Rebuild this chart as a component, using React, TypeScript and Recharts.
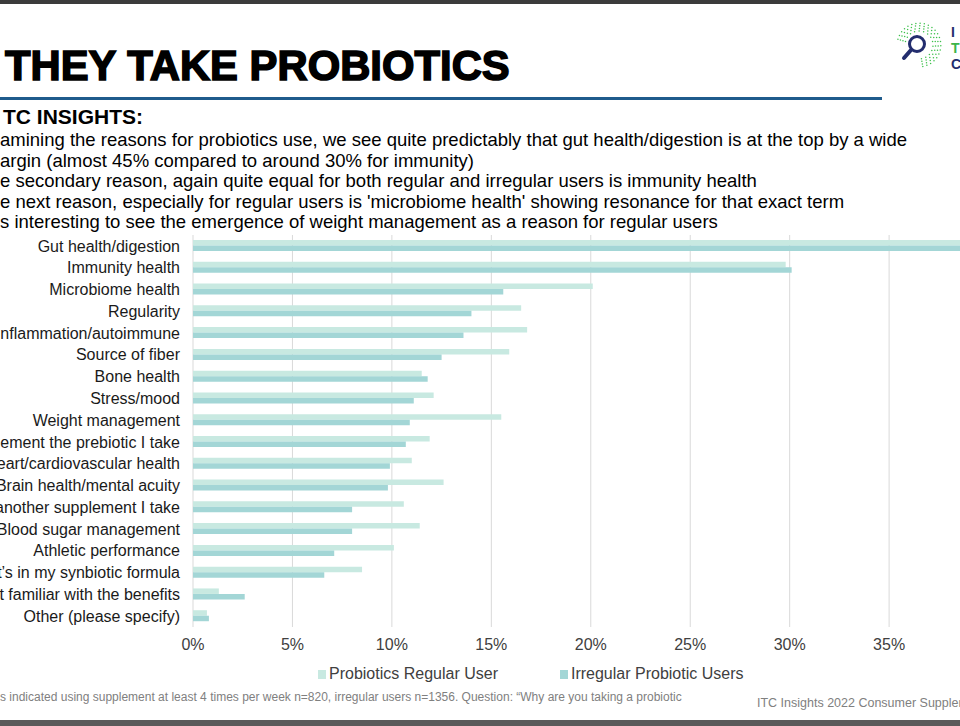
import { Bar, BarChart, CartesianGrid, XAxis, YAxis } from "recharts";

const reasons = [
  "Gut health/digestion",
  "Immunity health",
  "Microbiome health",
  "Regularity",
  "nflammation/autoimmune",
  "Source of fiber",
  "Bone health",
  "Stress/mood",
  "Weight management",
  "ement the prebiotic I take",
  "eart/cardiovascular health",
  "Brain health/mental acuity",
  "another supplement I take",
  "Blood sugar management",
  "Athletic performance",
  "t’s in my synbiotic formula",
  "t familiar with the benefits",
  "Other (please specify)",
];

// percent of respondents
const regularUsers = [44.2, 29.8, 20.1, 16.5, 16.8, 15.9, 11.5, 12.1, 15.5, 11.9, 11.0, 12.6, 10.6, 11.4, 10.1, 8.5, 1.3, 0.7];
const irregularUsers = [43.1, 30.1, 15.6, 14.0, 13.6, 12.5, 11.8, 11.1, 10.9, 10.7, 9.9, 9.8, 8.0, 8.0, 7.1, 6.6, 2.6, 0.8];

const percentTicks = [0, 5, 10, 15, 20, 25, 30, 35, 40, 45];

const bullets = [
  "amining the reasons for probiotics use, we see quite predictably that gut health/digestion is at the top by a wide",
  "argin (almost 45% compared to around 30% for immunity)",
  "e secondary reason, again quite equal for both regular and irregular users is immunity health",
  "e next reason, especially for regular users is 'microbiome health' showing resonance for that exact term",
  "s interesting to see the emergence of weight management as a reason for regular users",
];

const data = reasons.map((name, i) => ({
  name,
  regular: regularUsers[i],
  irregular: irregularUsers[i],
}));

const REGULAR = "#c8e9e1";
const IRREGULAR = "#a3d6d6";
const FONT = "'Liberation Sans', Arial, sans-serif";

function Logo() {
  const dots = [];
  for (let ring = 0; ring < 4; ring++) {
    const r = 14 + ring * 2.6;
    const n = 14 + ring * 3;
    for (let k = 0; k < n; k++) {
      const a = (-165 + (245 * k) / (n - 1)) * (Math.PI / 180);
      dots.push(
        <circle
          key={`${ring}-${k}`}
          cx={919 + r * Math.cos(a)}
          cy={45 + r * Math.sin(a)}
          r={0.75}
          fill="#3cc04a"
        />
      );
    }
  }
  return (
    <svg width={960} height={90} style={{ position: "absolute", left: 0, top: 0 }}>
      {dots}
      <circle cx={917} cy={44} r={7.5} fill="none" stroke="#232d6e" strokeWidth={3} />
      <line x1={911} y1={50} x2={904} y2={58} stroke="#232d6e" strokeWidth={4} strokeLinecap="round" />
      <text x={951} y={37} fontFamily={FONT} fontWeight={700} fontSize={14} fill="#232d6e">I</text>
      <text x={951} y={53} fontFamily={FONT} fontWeight={700} fontSize={14} fill="#3cb44a">T</text>
      <text x={951} y={69} fontFamily={FONT} fontWeight={700} fontSize={14} fill="#232d6e">C</text>
    </svg>
  );
}

export default function App() {
  return (
    <div
      style={{
        position: "fixed",
        left: 0,
        top: 0,
        width: 960,
        height: 726,
        overflow: "hidden",
        background: "#ffffff",
        fontFamily: FONT,
      }}
    >
      <div style={{ position: "absolute", left: 0, top: 0, width: 960, height: 4, background: "#3b3b3b" }} />
      <Logo />
      <div
        style={{
          position: "absolute",
          left: 5,
          top: 40,
          fontSize: 43,
          fontWeight: 700,
          lineHeight: "50px",
          color: "#000",
          WebkitTextStroke: "1.6px #000",
          whiteSpace: "nowrap",
          transform: "scaleX(0.972)",
          transformOrigin: "0 0",
        }}
      >
        THEY TAKE PROBIOTICS
      </div>
      <div style={{ position: "absolute", left: 0, top: 97, width: 882, height: 3, background: "#1f5b8c" }} />
      <div
        style={{
          position: "absolute",
          left: 3,
          top: 105,
          fontSize: 21,
          fontWeight: 700,
          lineHeight: "24px",
          color: "#000",
          whiteSpace: "nowrap",
        }}
      >
        TC INSIGHTS:
      </div>
      {bullets.map((b, i) => (
        <div
          key={i}
          style={{
            position: "absolute",
            left: 0,
            top: 130 + i * 20.5,
            fontSize: 18.5,
            lineHeight: "20px",
            color: "#000",
            whiteSpace: "nowrap",
          }}
        >
          {b}
        </div>
      ))}

      <div style={{ position: "absolute", left: 0, top: 0 }}>
        <BarChart
          width={1100}
          height={657}
          data={data}
          layout="vertical"
          margin={{ top: 235, right: 12, bottom: 0, left: 0 }}
          barSize={5.5}
          barGap={0}
        >
          <CartesianGrid horizontal={false} stroke="#d9d9d9" />
          <XAxis
            type="number"
            domain={[0, 45]}
            ticks={percentTicks}
            tickFormatter={(v) => `${v}%`}
            axisLine={false}
            tickLine={false}
            tickSize={0}
            tickMargin={12}
            height={30}
            tick={{ fontSize: 16, fill: "#404040", fontFamily: FONT }}
          />
          <YAxis
            type="category"
            dataKey="name"
            width={193}
            axisLine={false}
            tickLine={false}
            tickSize={0}
            tickMargin={13}
            interval={0}
            tick={{ fontSize: 16, fill: "#1a1a1a", fontFamily: FONT }}
          />
          <Bar dataKey="regular" name="Probiotics Regular User" fill={REGULAR} isAnimationActive={false} />
          <Bar dataKey="irregular" name="Irregular Probiotic Users" fill={IRREGULAR} isAnimationActive={false} />
        </BarChart>
      </div>

      <div
        style={{
          position: "absolute",
          left: 318,
          top: 665,
          display: "flex",
          alignItems: "center",
          fontSize: 16,
          color: "#404040",
          whiteSpace: "nowrap",
        }}
      >
        <span style={{ width: 8, height: 9, background: REGULAR, marginRight: 3 }} />
        <span style={{ marginRight: 62 }}>Probiotics Regular User</span>
        <span style={{ width: 8, height: 9, background: IRREGULAR, marginRight: 3 }} />
        <span>Irregular Probiotic Users</span>
      </div>

      <div
        style={{
          position: "absolute",
          left: 0,
          top: 690,
          fontSize: 12,
          color: "#808080",
          whiteSpace: "nowrap",
        }}
      >
        s indicated using supplement at least 4 times per week n=820, irregular users n=1356. Question: “Why are you taking a probiotic
      </div>
      <div
        style={{
          position: "absolute",
          left: 757,
          top: 696,
          fontSize: 12.5,
          color: "#808080",
          whiteSpace: "nowrap",
        }}
      >
        ITC Insights 2022 Consumer Supplement
      </div>
      <div style={{ position: "absolute", left: 0, top: 720, width: 960, height: 6, background: "#5a5a5a" }} />
    </div>
  );
}
